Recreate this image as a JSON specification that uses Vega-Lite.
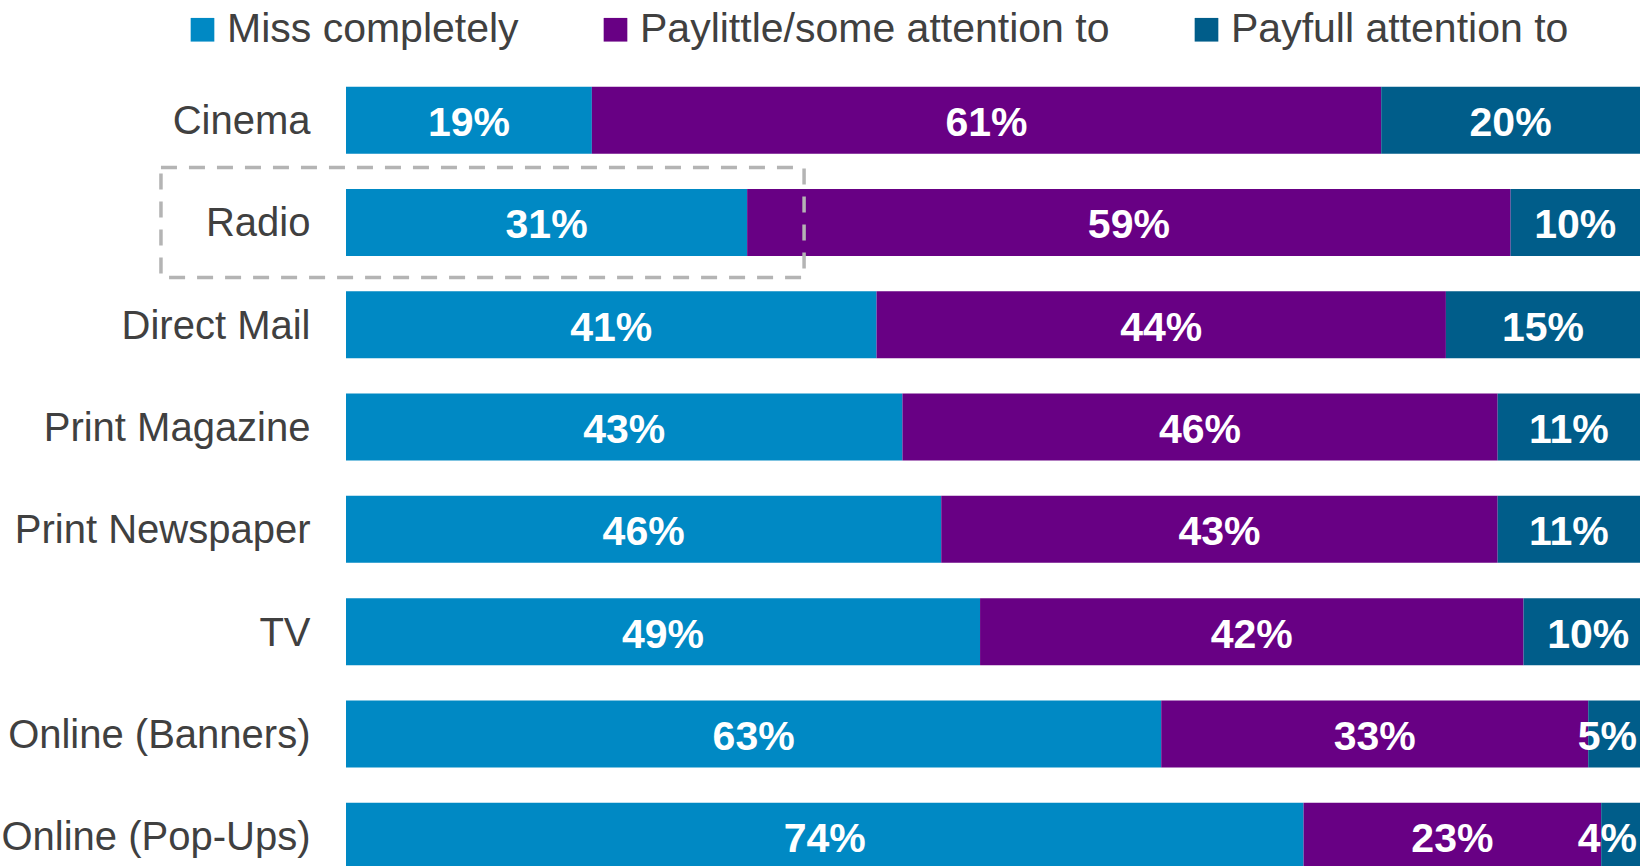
{
  "$schema": "https://vega.github.io/schema/vega-lite/v6.json",
  "width": 1294,
  "height": 797,
  "autosize": {"type": "none"},
  "padding": {"left": 346, "top": 69, "right": 8, "bottom": 0},
  "background": "white",
  "config": {"view": {"stroke": null}, "font": "Liberation Sans"},
  "data": {
    "values": [
      {"cat": "Cinema", "resp": "Miss completely", "k": 1, "v": 0.19},
      {"cat": "Cinema", "resp": "Paylittle/some attention to", "k": 2, "v": 0.61},
      {"cat": "Cinema", "resp": "Payfull attention to", "k": 3, "v": 0.20},
      {"cat": "Radio", "resp": "Miss completely", "k": 1, "v": 0.31},
      {"cat": "Radio", "resp": "Paylittle/some attention to", "k": 2, "v": 0.59},
      {"cat": "Radio", "resp": "Payfull attention to", "k": 3, "v": 0.10},
      {"cat": "Direct Mail", "resp": "Miss completely", "k": 1, "v": 0.41},
      {"cat": "Direct Mail", "resp": "Paylittle/some attention to", "k": 2, "v": 0.44},
      {"cat": "Direct Mail", "resp": "Payfull attention to", "k": 3, "v": 0.15},
      {"cat": "Print Magazine", "resp": "Miss completely", "k": 1, "v": 0.43},
      {"cat": "Print Magazine", "resp": "Paylittle/some attention to", "k": 2, "v": 0.46},
      {"cat": "Print Magazine", "resp": "Payfull attention to", "k": 3, "v": 0.11},
      {"cat": "Print Newspaper", "resp": "Miss completely", "k": 1, "v": 0.46},
      {"cat": "Print Newspaper", "resp": "Paylittle/some attention to", "k": 2, "v": 0.43},
      {"cat": "Print Newspaper", "resp": "Payfull attention to", "k": 3, "v": 0.11},
      {"cat": "TV", "resp": "Miss completely", "k": 1, "v": 0.49},
      {"cat": "TV", "resp": "Paylittle/some attention to", "k": 2, "v": 0.42},
      {"cat": "TV", "resp": "Payfull attention to", "k": 3, "v": 0.10},
      {"cat": "Online (Banners)", "resp": "Miss completely", "k": 1, "v": 0.63},
      {"cat": "Online (Banners)", "resp": "Paylittle/some attention to", "k": 2, "v": 0.33},
      {"cat": "Online (Banners)", "resp": "Payfull attention to", "k": 3, "v": 0.05},
      {"cat": "Online (Pop-Ups)", "resp": "Miss completely", "k": 1, "v": 0.74},
      {"cat": "Online (Pop-Ups)", "resp": "Paylittle/some attention to", "k": 2, "v": 0.23},
      {"cat": "Online (Pop-Ups)", "resp": "Payfull attention to", "k": 3, "v": 0.04}
    ]
  },
  "encoding": {
    "y": {
      "field": "cat",
      "type": "nominal",
      "sort": ["Cinema", "Radio", "Direct Mail", "Print Magazine", "Print Newspaper", "TV", "Online (Banners)", "Online (Pop-Ups)"],
      "scale": {"range": [0, 818.4], "paddingInner": 0.345, "paddingOuter": 0.1725},
      "axis": {"domain": false, "ticks": false, "labelFontSize": 40, "labelColor": "#404040", "labelPadding": 36, "labelLimit": 400, "labelOffset": 2, "title": null},
      "title": null
    }
  },
  "layer": [
    {
      "mark": {"type": "bar"},
      "encoding": {
        "x": {"field": "v", "type": "quantitative", "stack": "zero", "scale": {"domain": [0, 1], "clamp": true, "nice": false}, "axis": null},
        "color": {
          "field": "resp",
          "type": "nominal",
          "scale": {"domain": ["Miss completely", "Paylittle/some attention to", "Payfull attention to"], "range": ["#0089c4", "#680084", "#005d8a"]},
          "legend": {
            "orient": "none", "legendX": -164, "legendY": -60, "direction": "horizontal", "title": null,
            "symbolType": "square", "symbolSize": 560, "symbolStrokeWidth": 0, "symbolOpacity": 1,
            "labelFontSize": 41, "labelColor": "#404040", "labelLimit": 800, "columnPadding": 76, "labelOffset": 4
          }
        },
        "order": {"field": "k"}
      }
    },
    {
      "transform": [{"filter": "!(datum.k === 3 && datum.v < 0.07)"}],
      "mark": {"type": "text", "fill": "white", "fontWeight": "bold", "fontSize": 41, "align": "center", "baseline": "middle", "dy": 4},
      "encoding": {
        "x": {"field": "v", "type": "quantitative", "stack": "zero", "bandPosition": 0.5, "scale": {"domain": [0, 1], "clamp": true, "nice": false}, "axis": null},
        "detail": {"field": "resp"},
        "order": {"field": "k"},
        "text": {"field": "v", "format": ".0%"}
      }
    },
    {
      "transform": [
        {"stack": "v", "groupby": ["cat"], "sort": [{"field": "k", "order": "ascending"}], "as": ["v0", "v1"]},
        {"filter": "datum.k === 3 && datum.v < 0.07"}
      ],
      "mark": {"type": "text", "fill": "white", "fontWeight": "bold", "fontSize": 41, "align": "right", "baseline": "middle", "dy": 4, "dx": -3},
      "encoding": {
        "x": {"field": "v1", "type": "quantitative", "scale": {"domain": [0, 1], "clamp": true, "nice": false}, "axis": null},
        "text": {"field": "v", "format": ".0%"}
      }
    },
    {
      "transform": [{"filter": "datum.cat === 'Radio' && datum.k === 1"}],
      "mark": {"type": "bar", "height": {"band": 1.64}, "fill": "transparent", "stroke": "#b4b4b4", "strokeWidth": 3.5, "strokeDash": [16, 12]},
      "encoding": {
        "x": {"datum": -0.143, "type": "quantitative", "scale": {"domain": [0, 1], "nice": false}, "axis": null},
        "x2": {"datum": 0.354}
      }
    }
  ],
  "resolve": {"scale": {"x": "independent"}}
}
